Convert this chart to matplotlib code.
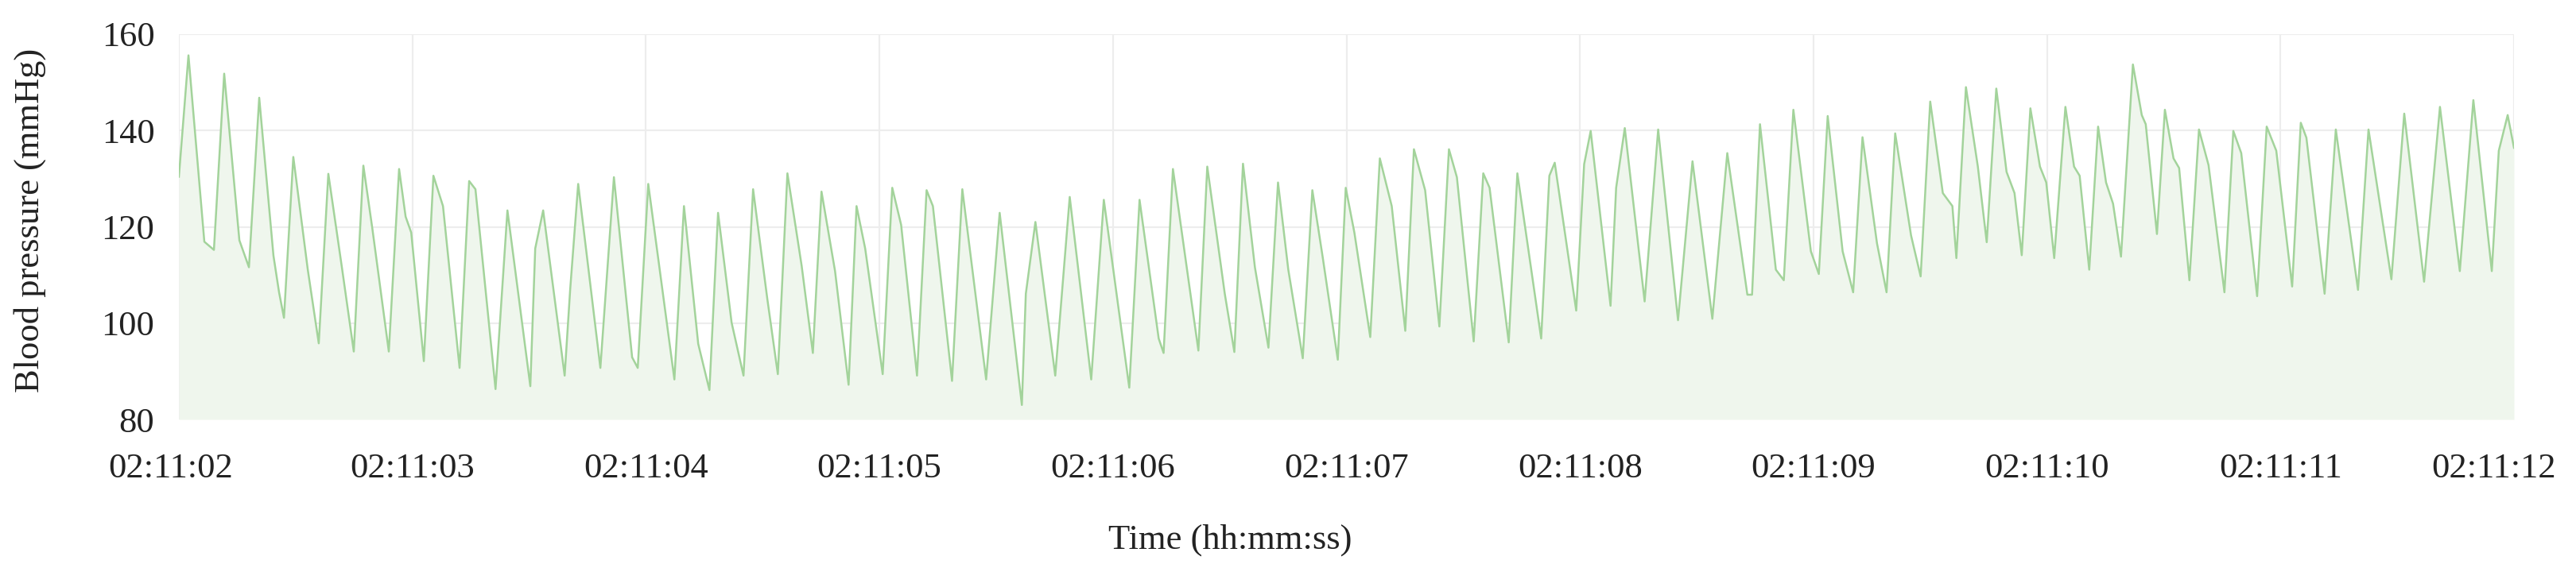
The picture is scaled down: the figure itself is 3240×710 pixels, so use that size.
import matplotlib
matplotlib.use("Agg")
import matplotlib.pyplot as plt
import matplotlib.transforms as mtransforms
import numpy as np

plt.rcParams['font.family'] = ['Liberation Serif', 'DejaVu Serif']

# seconds after 02:11:02, pressure in mmHg
peak_t = [0.041, 0.194, 0.344, 0.490, 0.640, 0.790, 0.943, 1.090, 1.243, 1.407,
          1.560, 1.710, 1.863, 2.010, 2.163, 2.309, 2.459, 2.606, 2.752, 2.902,
          3.055, 3.202, 3.355, 3.515, 3.668, 3.815, 3.961, 4.114, 4.257, 4.404,
          4.557, 4.707, 4.854, 4.997, 5.143, 5.289, 5.439, 5.586, 5.732, 5.892,
          6.046, 6.192, 6.335, 6.482, 6.631, 6.771, 6.914, 7.061, 7.210, 7.350,
          7.500, 7.653, 7.783, 7.929, 8.079, 8.219, 8.368, 8.505, 8.651, 8.798,
          8.941, 9.087, 9.237, 9.377, 9.530, 9.683, 9.826, 9.973]
peak_v = [155.6, 151.8, 146.8, 134.5, 131.0, 132.7, 132.0, 130.6, 129.5, 123.4,
          123.4, 128.9, 130.3, 128.9, 124.3, 122.9, 127.8, 131.1, 127.3, 124.3,
          128.1, 127.6, 127.8, 122.9, 121.0, 126.2, 125.6, 125.6, 132.0, 132.5,
          133.1, 129.2, 127.6, 128.1, 134.2, 136.1, 136.1, 131.1, 131.1, 133.3,
          139.9, 140.5, 140.2, 133.6, 135.3, 141.3, 144.3, 143.0, 138.6, 139.4,
          146.0, 149.0, 148.7, 144.6, 144.9, 140.8, 153.7, 144.3, 140.2, 139.9,
          140.8, 141.6, 140.2, 140.2, 143.5, 144.9, 146.3, 143.2]

trough_t = [0.150, 0.300, 0.450, 0.599, 0.749, 0.899, 1.049, 1.202, 1.356, 1.505,
            1.652, 1.805, 1.965, 2.122, 2.272, 2.418, 2.565, 2.715, 2.868, 3.014,
            3.161, 3.311, 3.457, 3.610, 3.753, 3.907, 4.070, 4.217, 4.366, 4.520,
            4.666, 4.813, 4.963, 5.102, 5.252, 5.398, 5.545, 5.695, 5.834, 5.984,
            6.131, 6.277, 6.420, 6.567, 6.717, 6.873, 7.023, 7.170, 7.313, 7.459,
            7.612, 7.742, 7.892, 8.031, 8.181, 8.317, 8.471, 8.610, 8.760, 8.900,
            9.050, 9.189, 9.332, 9.475, 9.615, 9.768, 9.905]
trough_v = [115.2, 111.6, 101.1, 95.8, 94.1, 94.1, 92.1, 90.7, 86.3, 86.9,
            89.1, 90.7, 90.7, 88.3, 86.1, 89.1, 89.4, 93.8, 87.2, 89.4,
            89.1, 88.0, 88.3, 83.0, 89.1, 88.3, 86.6, 93.8, 94.3, 94.0,
            94.9, 92.7, 92.4, 97.1, 98.4, 99.3, 96.2, 96.0, 96.8, 102.6,
            103.6, 104.5, 100.6, 100.9, 105.9, 108.9, 110.2, 106.4, 106.4, 109.7,
            113.5, 116.8, 114.1, 113.5, 111.1, 113.8, 118.5, 108.9, 106.4, 105.6,
            107.6, 106.1, 106.9, 109.1, 108.6, 110.8, 110.8]

# dicrotic notches, shoulders and the two ends of the trace
notch_t = [0.000, 0.109, 0.259, 0.405, 0.429, 0.552, 0.698, 0.828, 0.971, 0.995,
           1.131, 1.270, 1.526, 1.676, 1.941, 2.224, 2.367, 2.520, 2.667, 2.810,
           2.939, 3.093, 3.229, 3.627, 4.196, 4.479, 4.608, 4.751, 4.898, 5.034,
           5.194, 5.337, 5.473, 5.613, 5.869, 6.018, 6.155, 6.737, 6.839, 6.989,
           7.125, 7.272, 7.418, 7.554, 7.595, 7.704, 7.827, 7.861, 7.970, 7.997,
           8.116, 8.140, 8.253, 8.283, 8.406, 8.423, 8.542, 8.566, 8.692, 8.832,
           8.982, 9.111, 9.935, 10.000]
notch_v = [130.4, 116.9, 117.2, 114.0, 106.4, 111.1, 111.6, 119.8, 122.1, 118.8,
           124.3, 127.8, 115.5, 107.2, 92.9, 95.7, 100.1, 105.0, 111.9, 110.8,
           115.5, 120.4, 124.3, 106.1, 96.8, 106.1, 111.6, 111.1, 113.8, 118.8,
           124.3, 127.6, 130.3, 128.1, 130.6, 133.0, 128.1, 105.9, 111.1, 114.9,
           114.9, 116.6, 118.2, 127.0, 124.3, 132.5, 131.4, 127.0, 132.5, 129.2,
           132.5, 130.6, 129.2, 124.8, 143.2, 141.3, 134.2, 132.2, 132.8, 135.3,
           135.8, 138.5, 135.8, 136.4]

tick_labels = ['02:11:%02d' % s for s in range(2, 13)]

t = np.array(peak_t + trough_t + notch_t)
v = np.array(peak_v + trough_v + notch_v)
order = np.argsort(t)
t, v = t[order], v[order]

fig = plt.figure(figsize=(32.4, 7.1), dpi=100)
ax = fig.add_axes([225/3240, 1 - 528/710, (3162 - 225)/3240, (528 - 43)/710])

ax.fill_between(t, v, 80, color='#eff6ed', lw=0, zorder=1)
ax.plot(t, v, color='#a3d39b', lw=1.8, zorder=3)

ax.set_xlim(0, 10)
ax.set_ylim(80, 160)
ax.set_xticks(range(11))
ax.set_xticklabels(tick_labels)
ax.set_yticks([80, 100, 120, 140, 160])
ax.grid(True, color='#ededed', lw=1.6, zorder=0)
ax.set_axisbelow(True)
for s in ax.spines.values():
    s.set_visible(False)
ax.tick_params(axis='both', length=0, labelsize=32, colors='#222222')
ax.tick_params(axis='x', pad=30)
ax.tick_params(axis='y', pad=22)

# first and last labels are nudged like in the original
labels = ax.get_xticklabels()
for lbl, dx in ((labels[0], -0.1), (labels[-1], -0.25)):
    lbl.set_transform(lbl.get_transform() + mtransforms.ScaledTranslation(dx, 0, fig.dpi_scale_trans))

fig.text(1547/3240, 1 - 680/710, 'Time (hh:mm:ss)', ha='center', va='center',
         fontsize=32, color='#222222')
fig.text(38/3240, 1 - 277/710, 'Blood pressure (mmHg)', ha='center', va='center',
         rotation=90, fontsize=32, color='#222222')

fig.savefig('out.png', dpi=100)
